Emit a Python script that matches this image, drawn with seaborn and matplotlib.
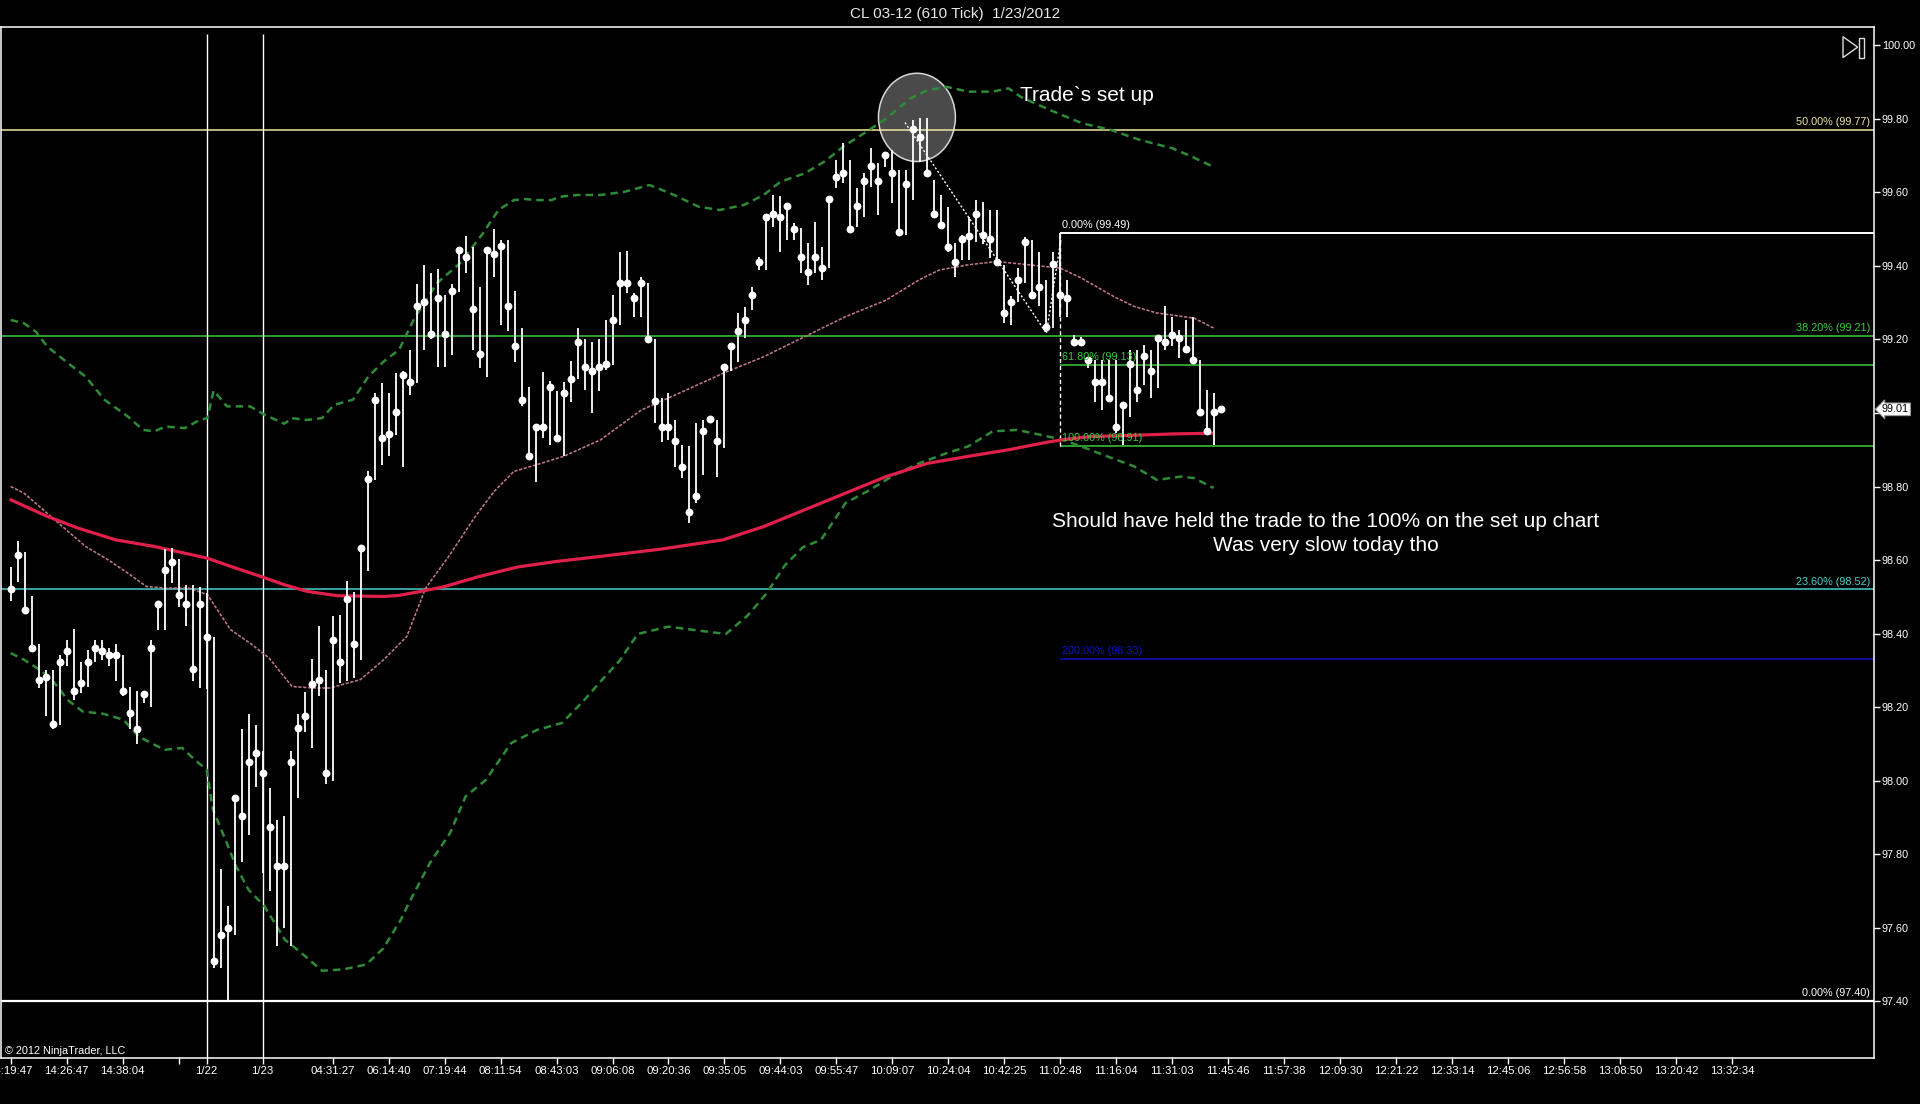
import numpy as np
import pandas as pd
import matplotlib
matplotlib.use("Agg")
import matplotlib.pyplot as plt
import seaborn as sns
from matplotlib.patches import Ellipse, Polygon, Rectangle
from matplotlib.transforms import blended_transform_factory

# ---------------- data ----------------
close = [98.522, 98.613, 98.463, 98.362, 98.273, 98.283, 98.153, 98.324, 98.354, 98.243,
         98.265, 98.324, 98.362, 98.354, 98.343, 98.343, 98.243, 98.183, 98.141, 98.236,
         98.362, 98.481, 98.574, 98.594, 98.504, 98.481, 98.303, 98.481, 98.392, 97.510,
         97.580, 97.600, 97.954, 97.903, 98.052, 98.074, 98.022, 97.873, 97.767, 97.767,
         98.052, 98.142, 98.175, 98.264, 98.273, 98.022, 98.383, 98.324, 98.493, 98.372,
         98.634, 98.821, 99.034, 98.933, 98.944, 99.003, 99.102, 99.083, 99.292, 99.303,
         99.214, 99.314, 99.214, 99.332, 99.442, 99.423, 99.284, 99.161, 99.442, 99.433,
         99.453, 99.292, 99.183, 99.034, 98.884, 98.963, 98.963, 99.072, 98.933, 99.054,
         99.093, 99.194, 99.125, 99.113, 99.125, 99.133, 99.254, 99.353, 99.353, 99.314,
         99.353, 99.202, 99.033, 98.963, 98.963, 98.924, 98.854, 98.732, 98.773, 98.952,
         98.983, 98.924, 99.124, 99.183, 99.224, 99.254, 99.322, 99.412, 99.534, 99.541,
         99.534, 99.564, 99.500, 99.423, 99.383, 99.423, 99.393, 99.583, 99.643, 99.654,
         99.501, 99.564, 99.632, 99.673, 99.632, 99.703, 99.654, 99.493, 99.623, 99.773,
         99.752, 99.654, 99.542, 99.512, 99.452, 99.412, 99.472, 99.482, 99.542, 99.483,
         99.472, 99.412, 99.273, 99.303, 99.362, 99.464, 99.322, 99.343, 99.233, 99.405,
         99.322, 99.314, 99.194, 99.194, 99.143, 99.083, 99.083, 99.042, 98.962, 99.023,
         99.134, 99.063, 99.154, 99.113, 99.203, 99.194, 99.213, 99.203, 99.173, 99.143,
         99.004, 98.952, 99.004, 99.012]
high = [98.580, 98.652, 98.623, 98.503, 98.372, 98.302, 98.302, 98.343, 98.383, 98.412,
        98.324, 98.356, 98.383, 98.383, 98.361, 98.372, 98.343, 98.256, 98.243, 98.243,
        98.383, 98.488, 98.630, 98.634, 98.603, 98.533, 98.533, 98.528, 98.510, 98.390,
        97.760, 97.660, 97.954, 98.141, 98.182, 98.152, 98.080, 97.980, 97.894, 97.903,
        98.081, 98.182, 98.240, 98.330, 98.421, 98.302, 98.447, 98.451, 98.544, 98.513,
        98.637, 98.841, 99.054, 99.081, 99.054, 99.110, 99.113, 99.170, 99.351, 99.403,
        99.380, 99.391, 99.321, 99.350, 99.448, 99.481, 99.451, 99.344, 99.448, 99.500,
        99.471, 99.471, 99.332, 99.230, 99.070, 98.963, 99.111, 99.086, 99.060, 99.084,
        99.142, 99.230, 99.201, 99.194, 99.200, 99.253, 99.320, 99.439, 99.441, 99.326,
        99.371, 99.353, 99.202, 99.040, 99.054, 98.981, 98.913, 98.909, 98.972, 98.981,
        98.990, 98.981, 99.131, 99.190, 99.271, 99.289, 99.344, 99.425, 99.539, 99.593,
        99.590, 99.570, 99.516, 99.502, 99.462, 99.520, 99.452, 99.588, 99.688, 99.733,
        99.688, 99.611, 99.652, 99.720, 99.679, 99.711, 99.715, 99.661, 99.661, 99.797,
        99.801, 99.801, 99.634, 99.593, 99.561, 99.462, 99.484, 99.534, 99.579, 99.575,
        99.552, 99.552, 99.403, 99.317, 99.394, 99.480, 99.471, 99.439, 99.362, 99.439,
        99.490, 99.362, 99.213, 99.208, 99.145, 99.145, 99.145, 99.145, 99.145, 99.031,
        99.172, 99.172, 99.185, 99.172, 99.213, 99.291, 99.262, 99.226, 99.253, 99.262,
        99.145, 99.063, 99.054, 99.020]
low = [98.490, 98.540, 98.456, 98.356, 98.252, 98.175, 98.140, 98.152, 98.311, 98.220,
       98.238, 98.256, 98.324, 98.329, 98.311, 98.270, 98.229, 98.140, 98.100, 98.210,
       98.200, 98.410, 98.410, 98.537, 98.472, 98.420, 98.270, 98.252, 98.250, 97.490,
       97.490, 97.400, 97.580, 97.780, 97.851, 97.982, 97.750, 97.700, 97.550, 97.600,
       97.550, 97.952, 98.132, 98.090, 98.230, 97.990, 98.000, 98.265, 98.270, 98.279,
       98.329, 98.571, 98.818, 98.859, 98.882, 98.941, 98.852, 99.050, 99.081, 99.170,
       99.200, 99.126, 99.126, 99.158, 99.330, 99.380, 99.170, 99.122, 99.099, 99.371,
       99.240, 99.222, 99.140, 99.020, 98.873, 98.811, 98.932, 98.912, 98.920, 98.882,
       99.031, 99.092, 99.063, 98.999, 99.060, 99.117, 99.130, 99.240, 99.326, 99.262,
       99.260, 99.194, 98.972, 98.922, 98.927, 98.854, 98.823, 98.700, 98.755, 98.832,
       98.972, 98.827, 98.904, 99.113, 99.140, 99.203, 99.280, 99.389, 99.389, 99.507,
       99.439, 99.471, 99.471, 99.380, 99.348, 99.380, 99.362, 99.394, 99.611, 99.625,
       99.498, 99.507, 99.534, 99.616, 99.539, 99.670, 99.570, 99.489, 99.484, 99.579,
       99.684, 99.647, 99.539, 99.507, 99.439, 99.371, 99.416, 99.416, 99.466, 99.460,
       99.421, 99.400, 99.245, 99.240, 99.303, 99.353, 99.317, 99.290, 99.220, 99.231,
       99.260, 99.262, 99.181, 99.185, 99.122, 99.031, 99.009, 99.030, 98.945, 98.913,
       98.990, 99.031, 99.077, 99.040, 99.068, 99.172, 99.181, 99.149, 99.163, 99.135,
       99.000, 98.945, 98.913, 99.004]

# slow moving average (thick red)
red_ma_x = [0, 5.2, 9.6, 15, 20.5, 26, 28.1, 31.4, 35.8, 39.1, 42.3, 46.7, 53.3, 55.5,
            58.7, 62, 66.9, 72.4, 77.9, 84.3, 93, 101.8, 107.6, 113.5, 119.3, 125.1, 131,
            136.8, 142.6, 148.5, 150.3, 154.3, 160.1, 166, 171.8]
red_ma = [98.764, 98.719, 98.687, 98.655, 98.637, 98.614, 98.605, 98.583, 98.555, 98.533,
          98.515, 98.503, 98.501, 98.504, 98.515, 98.528, 98.555, 98.581, 98.596, 98.610,
          98.630, 98.655, 98.691, 98.737, 98.782, 98.827, 98.863, 98.882, 98.900, 98.922,
          98.927, 98.936, 98.939, 98.943, 98.945]
# fast moving average (thin dotted pink)
pink_ma_x = [0, 1.9, 4.1, 5.7, 7.9, 10.7, 13.9, 16.7, 19.4, 22.1, 25.4, 28.1, 31.4, 34.2,
             36.9, 40.2, 43.4, 45.6, 50, 53.3, 56.6, 59.3, 62.6, 66.4, 69.1, 71.9, 75.1,
             79, 84.3, 90.1, 96, 101.8, 107.6, 113.5, 119.3, 125.1, 129.8, 132.7, 136.8,
             140.9, 145.5, 150, 153, 157.6, 160.5, 163.8, 169.1, 171.9]
pink_ma = [98.800, 98.782, 98.746, 98.719, 98.683, 98.637, 98.601, 98.565, 98.528, 98.524,
           98.524, 98.506, 98.411, 98.374, 98.334, 98.256, 98.252, 98.252, 98.275, 98.329,
           98.392, 98.524, 98.610, 98.719, 98.787, 98.841, 98.859, 98.882, 98.927, 99.008,
           99.058, 99.108, 99.153, 99.208, 99.262, 99.307, 99.362, 99.389, 99.403, 99.412,
           99.403, 99.394, 99.367, 99.317, 99.290, 99.272, 99.258, 99.231]
# upper band (green dashed)
upper_x = [0, 1.9, 3.6, 5.2, 8.5, 10.7, 13.4, 16.7, 18.9, 20.5, 22.1, 24.9, 27, 28.1, 29,
           30.9, 34.2, 36.3, 39.1, 40.2, 42.3, 44.5, 46.2, 48.9, 51.1, 53.3, 55.5, 57.7,
           60.9, 64.2, 67.5, 69.7, 71.9, 73.5, 75.1, 77.3, 78.4, 81.1, 84.3, 87.8, 91.3,
           94.8, 98.3, 101.3, 104.8, 107.6, 110, 113.5, 116.3, 119.3, 122.3, 125.1, 128.6,
           131, 133.8, 136.8, 140.3, 142.6, 144.3, 148.5, 153.1, 157.2, 161.3, 166, 168.8,
           171.8]
upper = [99.253, 99.244, 99.221, 99.181, 99.131, 99.099, 99.036, 98.991, 98.954, 98.950,
         98.963, 98.959, 98.981, 98.986, 99.061, 99.018, 99.018, 98.995, 98.971, 98.986,
         98.981, 98.986, 99.022, 99.036, 99.099, 99.140, 99.172, 99.258, 99.353, 99.407,
         99.489, 99.552, 99.579, 99.582, 99.579, 99.579, 99.588, 99.593, 99.593, 99.602,
         99.620, 99.593, 99.561, 99.552, 99.566, 99.593, 99.629, 99.652, 99.684, 99.729,
         99.765, 99.801, 99.856, 99.878, 99.887, 99.874, 99.874, 99.883, 99.860, 99.824,
         99.788, 99.770, 99.743, 99.720, 99.697, 99.670]
# lower band (green dashed)
lower_x = [0, 1.9, 4.1, 5.7, 7.4, 8.1, 10.3, 13.2, 16.1, 18.3, 20.5, 22, 24.5, 26.3, 28,
           28.9, 30.7, 32.2, 34, 36.2, 39.2, 41.8, 44.5, 47.6, 50.8, 53.2, 55.7, 57, 59.9,
           62.8, 65, 67.9, 71.5, 75.2, 78.8, 82, 84.3, 87, 89.6, 94, 99.2, 102.2, 105.3,
           108, 110.6, 113.2, 115.8, 119.3, 122.8, 126.3, 129.8, 133.8, 136.8, 140.3,
           143.8, 147.3, 150.3, 153, 156.7, 160.5, 163.8, 167.2, 169.1, 171.9]
lower = [98.347, 98.329, 98.302, 98.279, 98.238, 98.220, 98.188, 98.182, 98.166, 98.120,
         98.098, 98.084, 98.089, 98.057, 98.030, 97.921, 97.839, 97.767, 97.703, 97.660,
         97.567, 97.527, 97.483, 97.487, 97.500, 97.543, 97.620, 97.671, 97.776, 97.858,
         97.957, 98.002, 98.102, 98.138, 98.157, 98.220, 98.270, 98.326, 98.399, 98.419,
         98.406, 98.399, 98.449, 98.509, 98.585, 98.635, 98.655, 98.755, 98.791, 98.832,
         98.863, 98.891, 98.909, 98.950, 98.954, 98.940, 98.927, 98.909, 98.882, 98.855,
         98.818, 98.827, 98.823, 98.796]

# x axis labels (bar index of each label)
xtick_pos = [0, 8, 16, 24, 28, 36, 46, 54, 62, 70, 78, 86, 94, 102, 110, 118, 126, 134,
             142, 150, 158, 166, 174, 182, 190, 198, 206, 214, 222, 230, 238, 246]
xtick_labels = ["14:19:47", "14:26:47", "14:38:04", "", "1/22", "1/23", "04:31:27",
                "06:14:40", "07:19:44", "08:11:54", "08:43:03", "09:06:08", "09:20:36",
                "09:35:05", "09:44:03", "09:55:47", "10:09:07", "10:24:04", "10:42:25",
                "11:02:48", "11:16:04", "11:31:03", "11:45:46", "11:57:38", "12:09:30",
                "12:21:22", "12:33:14", "12:45:06", "12:56:58", "13:08:50", "13:20:42",
                "13:32:34"]
session_breaks = [28, 36]
ytick_vals = [97.40, 97.60, 97.80, 98.00, 98.20, 98.40, 98.60, 98.80, 99.00, 99.20,
              99.40, 99.60, 99.80, 100.00]

# Fibonacci set A (full width)
fibA_levels = [99.77, 99.21, 98.52, 97.40]
fibA_labels = ["50.00% (99.77)", "38.20% (99.21)", "23.60% (98.52)", "0.00% (97.40)"]
fibA_colors = ["#EEE8A0", "#3CCB3C", "#48CFCF", "#FFFFFF"]
# Fibonacci set B (starting at the swing bar)
fibB_start = 150
fibB_levels = [99.49, 99.13, 98.91, 98.33]
fibB_labels = ["0.00% (99.49)", "61.80% (99.13)", "100.00% (98.91)", "200.00% (98.33)"]
fibB_colors = ["#FFFFFF", "#3CCB3C", "#3CCB3C", "#1010C8"]

trend_x = [127.8, 148.0, 150.1]
trend_y = [99.79, 99.217, 99.475]
last_price = 99.01

# ---------------- figure ----------------
sns.set_theme(style="dark")
plt.rcParams["font.family"] = ["Liberation Sans", "DejaVu Sans"]
plt.rcParams["axes.facecolor"] = "black"
plt.rcParams["figure.facecolor"] = "black"

fig = plt.figure(figsize=(19.2, 11.04), dpi=100)
fig.patch.set_facecolor("black")
ax = fig.add_axes([0.0006, 0.0421, 0.9752, 0.9335])
ax.set_facecolor("black")
ax.grid(False)

n = len(close)
bars = np.arange(n)
df = pd.DataFrame({"bar": bars, "close": close, "high": high, "low": low})

XMIN, XMAX = -1.364, 266.2
YMIN, YMAX = 97.247, 100.050

# highlight circle
ax.add_patch(Ellipse((129.5, 99.804), 11.0, 0.240, facecolor="#4a4a4a",
                     edgecolor="#d8d8d8", lw=1.1, zorder=0.5))

# horizontal fib lines
for lv, col in zip(fibA_levels, fibA_colors):
    ax.axhline(lv, color=col, lw=1.1 if col != "#FFFFFF" else 1.6, zorder=1)
for lv, col in zip(fibB_levels, fibB_colors):
    ax.hlines(lv, fibB_start, XMAX, color=col, lw=1.1 if col != "#FFFFFF" else 1.4, zorder=1)
ax.vlines(fibB_start, fibB_levels[2], fibB_levels[0], color="white", lw=1.0,
          linestyles=(0, (3, 2)), zorder=1)

# session break lines
ax.vlines(session_breaks, YMIN, 100.03, color="white", lw=1.0, zorder=1)

# bands and moving averages
sns.lineplot(x=upper_x, y=upper, ax=ax, color="#2E8B37", lw=1.8, sort=False,
             estimator=None, linestyle=(0, (3, 2)), zorder=2)
sns.lineplot(x=lower_x, y=lower, ax=ax, color="#2E8B37", lw=1.8, sort=False,
             estimator=None, linestyle=(0, (3, 2)), zorder=2)
sns.lineplot(x=pink_ma_x, y=pink_ma, ax=ax, color="#C07888", lw=1.15, sort=False,
             estimator=None, linestyle=(0, (2, 1.0)), zorder=2)
sns.lineplot(x=red_ma_x, y=red_ma, ax=ax, color="#E0204A", lw=2.3, sort=False,
             estimator=None, zorder=2)

# trend line
ax.plot(trend_x, trend_y, color="white", lw=1.0, linestyle=(0, (1.5, 1.5)), zorder=3)

# bars: wicks + close dots
ax.vlines(df["bar"], df["low"], df["high"], color="white", lw=1.3, zorder=3)
sns.scatterplot(data=df, x="bar", y="close", ax=ax, color="white", s=32,
                edgecolor="white", linewidth=0, zorder=4, legend=False)

ax.set_xlim(XMIN, XMAX)
ax.set_ylim(YMIN, YMAX)

# axes styling
for sp in ax.spines.values():
    sp.set_color("white")
    sp.set_linewidth(1.1)
    sp.set_visible(True)
ax.yaxis.tick_right()
ax.set_yticks(ytick_vals)
# the 99.00 label is hidden behind the last-price marker in the reference
ax.set_yticklabels(["" if abs(v - 99.0) < 1e-9 else f"{v:.2f}" for v in ytick_vals])
ax.set_xticks(xtick_pos)
ax.set_xticklabels(xtick_labels)
ax.tick_params(axis="y", colors="white", length=4.5, width=1, pad=1.5, labelsize=7.8,
               right=True, left=False)
ax.tick_params(axis="x", colors="white", length=4, width=1, pad=2, labelsize=8.2,
               bottom=True)
ax.set_xlabel("")
ax.set_ylabel("")

blend = blended_transform_factory(ax.transAxes, ax.transData)
for lv, lab, col in zip(fibA_levels, fibA_labels, fibA_colors):
    ax.text(0.998, lv + 0.008, lab, transform=blend, ha="right", va="bottom",
            fontsize=7.8, color=col, zorder=5)
for lv, lab, col in zip(fibB_levels, fibB_labels, fibB_colors):
    ax.text(fibB_start + 0.3, lv + 0.008, lab, ha="left", va="bottom",
            fontsize=7.8, color=col, zorder=5)

# annotations
ax.text(153.8, 99.864, "Trade`s set up", ha="center", va="center", fontsize=15,
        color="white", zorder=6)
ax.text(187.9, 98.705, "Should have held the trade to the 100% on the set up chart",
        ha="center", va="center", fontsize=15, color="white", zorder=6)
ax.text(187.9, 98.639, "Was very slow today tho", ha="center", va="center",
        fontsize=15, color="white", zorder=6)

# last price marker
ax.text(1.0045, last_price, f"{last_price:.2f}", transform=blend, ha="left", va="center",
        fontsize=7.8, color="black", zorder=6, clip_on=False,
        bbox=dict(boxstyle="larrow,pad=0.12", fc="white", ec="#9a9a9a", lw=0.8))

# copyright
ax.text(0.002, 0.0065, "\u00a9 2012 NinjaTrader, LLC", transform=ax.transAxes,
        ha="left", va="center", fontsize=7.8, color="white", zorder=6)

# play/end icon
ax.add_patch(Polygon([(0.9837, 0.9905), (0.9837, 0.9703), (0.9915, 0.9804)], closed=True,
                     fill=False, ec="#dddddd", lw=1.0, transform=ax.transAxes, zorder=6))
ax.add_patch(Rectangle((0.9922, 0.9703), 0.0026, 0.019, fill=False, ec="#dddddd", lw=1.0,
                       transform=ax.transAxes, zorder=6))

# title
fig.text(0.4974, 1 - 11.5 / 902, "CL 03-12 (610 Tick)  1/23/2012", ha="center",
         va="center", fontsize=11, color="#e8e8e8")

fig.savefig("out.png", dpi=100, facecolor="black")
